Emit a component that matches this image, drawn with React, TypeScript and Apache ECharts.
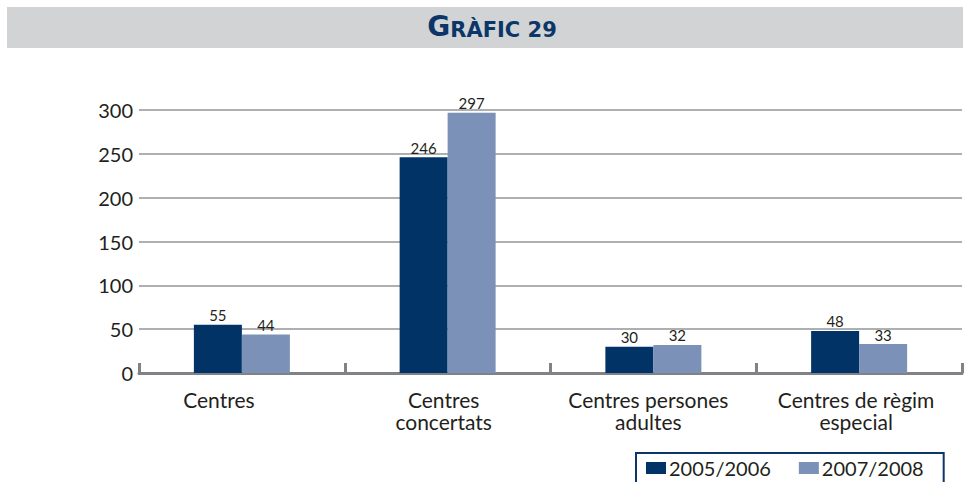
import React, { useEffect, useRef } from "react";
import * as echarts from "echarts";

const categories = ["Centres", "Centres\nconcertats", "Centres persones\nadultes", "Centres de règim\nespecial"];
const categoryShift = [46, 8, 10, 6];
const series2005 = [55, 246, 30, 48];
const series2007 = [44, 297, 32, 33];
const seriesNames = ["2005/2006", "2007/2008"];
const yTicks = { min: 0, max: 300, interval: 50 };

const FONT = "Lato";
const TXT = "#231F20";

export default function App() {
  const ref = useRef<HTMLDivElement>(null);
  useEffect(() => {
    document.body.style.margin = "0";
    const chart = echarts.init(ref.current!, null, { renderer: "svg" });
    chart.setOption({
      animation: false,
      backgroundColor: "#ffffff",
      textStyle: { fontFamily: FONT },
      graphic: [
        {
          type: "rect",
          shape: { x: 7, y: 7, width: 956, height: 41 },
          style: { fill: "#D1D3D4" },
          z: -1,
        },
        {
          type: "text",
          x: 492,
          y: 26,
          style: {
            text: "{a|G}{b|RÀFIC 29}",
            align: "center",
            verticalAlign: "middle",
            rich: {
              a: { fontSize: 28, fontWeight: "bold", fill: "#0B3668", fontFamily: "DejaVu Sans", verticalAlign: "bottom" },
              b: { fontSize: 21, fontWeight: "bold", fill: "#0B3668", fontFamily: "DejaVu Sans", verticalAlign: "bottom" },
            },
          },
        },
      ],
      grid: { left: 139, right: 8, top: 110, bottom: 109 },
      legend: {
        left: 636,
        top: 453,
        width: 306,
        data: seriesNames,
        icon: "rect",
        itemWidth: 20,
        itemHeight: 12,
        itemGap: 28,
        borderColor: "#0B3668",
        borderWidth: 2,
        padding: [5, 20, 30, 10],
        textStyle: { fontSize: 20, color: TXT, fontFamily: FONT, padding: [0, 0, 0, -2] },
      },
      xAxis: {
        type: "category",
        data: categories.map((c, i) => ({
          value: c,
          textStyle: { padding: [0, categoryShift[i], 0, 0] },
        })),
        axisLine: { show: true, lineStyle: { color: "#808285", width: 3 } },
        axisTick: { show: true, interval: 0, inside: true, length: 10, lineStyle: { color: "#808285", width: 3 } },
        axisLabel: { interval: 0, hideOverlap: false, fontSize: 21, color: TXT, margin: 15, lineHeight: 22, fontFamily: FONT },
      },
      yAxis: {
        type: "value",
        min: yTicks.min,
        max: yTicks.max,
        interval: yTicks.interval,
        axisLine: { show: false },
        axisTick: { show: false },
        splitLine: { lineStyle: { color: "#939598", width: 1.5 } },
        axisLabel: { fontSize: 20, color: TXT, margin: 6, fontFamily: FONT },
      },
      series: [
        {
          name: seriesNames[0],
          type: "bar",
          data: series2005,
          barWidth: 48,
          barGap: "0%",
          itemStyle: { color: "#023366" },
          label: { show: true, position: "top", distance: 2, fontSize: 15, color: TXT, fontFamily: FONT },
        },
        {
          name: seriesNames[1],
          type: "bar",
          data: series2007,
          barWidth: 48,
          itemStyle: { color: "#7B91B8" },
          label: { show: true, position: "top", distance: 2, fontSize: 15, color: TXT, fontFamily: FONT },
        },
      ],
    });
    return () => chart.dispose();
  }, []);
  return <div ref={ref} style={{ width: 970, height: 482, position: "absolute", left: 0, top: 0 }} />;
}
